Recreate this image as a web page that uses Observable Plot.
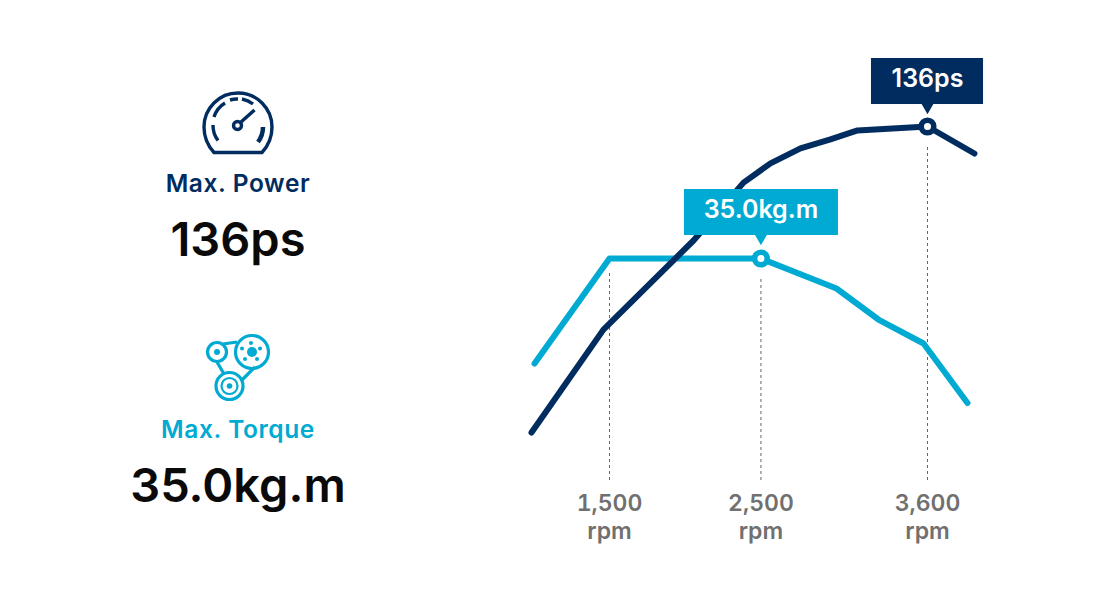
<!DOCTYPE html>
<html><head><meta charset="utf-8">
<script src="https://cdn.jsdelivr.net/npm/d3@7"></script>
<script src="https://cdn.jsdelivr.net/npm/@observablehq/plot@0.6"></script>
<style>
html,body{margin:0;padding:0;background:#fff;}
#page{position:relative;width:1120px;height:600px;overflow:hidden;display:flex;font-family:Inter,"Open Sans",sans-serif;}
#panel{position:relative;width:476px;height:600px;flex:none;}
#chart{width:644px;height:600px;flex:none;}
#chart svg{display:block;}
.t{position:absolute;left:0;width:476px;text-align:center;white-space:nowrap;}
.label{font-size:24.500px;font-weight:600;line-height:28px;letter-spacing:0.600px;}
.value{font-size:47px;font-weight:600;line-height:56px;color:#0a0a0a;}
.icon{position:absolute;left:0;top:0;}
</style></head><body>
<div id="page">
<div id="panel">
<svg class="icon" width="476" height="600" fill="none">
  <g stroke="#002c5f" stroke-width="3.400">
    <path d="M214 152.500 L262 152.500 C268 146 272 137 272 127 A34 34 0 0 0 204 127 C204 137 208 146 214 152.500 Z" stroke-linejoin="round"/>
    <path d="M218 140.500 A25 25 0 0 1 213 125" />
    <path d="M214 117 A25 25 0 0 1 225 103" />
    <path d="M230 100 A25 25 0 0 1 238 99" />
    <path d="M242 99 A25 25 0 0 1 253 104" />
    <path d="M263 127 A25 25 0 0 1 258 142" stroke-width="4.500"/>
    <circle cx="237.500" cy="125.500" r="4"/>
    <path d="M241 122 L254.500 110"/>
  </g>
  <g stroke="#00aad2" stroke-width="3.200">
    <circle cx="217" cy="352" r="9.500"/>
    <circle cx="252" cy="352" r="16.500"/>
    <circle cx="229.500" cy="386" r="13.500"/>
    <circle cx="229.500" cy="386" r="8" stroke-width="2.200"/>
    <path d="M223 344 L237 342 M217 362 L224 374 M255 367 L241 381"/>
  </g>
  <g fill="#00aad2">
    <circle cx="217" cy="352" r="3"/>
    <circle cx="229.500" cy="386" r="2.800"/>
    <circle cx="252" cy="352" r="5"/>
    <circle cx="251" cy="343" r="2"/><circle cx="260" cy="348.500" r="2"/><circle cx="257" cy="359" r="2"/>
    <circle cx="245" cy="359" r="2"/><circle cx="242" cy="348.500" r="2"/>
  </g>
</svg>
<div class="t label" style="top:169px;color:#002c5f">Max. Power</div>
<div class="t value" style="top:211px">136ps</div>
<div class="t label" style="top:415px;color:#00aad2">Max. Torque</div>
<div class="t value" style="top:457px">35.0kg.m</div>
</div>
<div id="chart"></div>
</div>
<script>
const navy = "#002c5f", cyan = "#00aad2", grey = "#707070";
// Power curve: rpm, ps
const powerRpm = [985, 1460, 2055, 2385, 2563, 2761, 2959, 3138, 3600, 3910];
const powerPs  = [34, 68.3, 98, 117.3, 123.7, 128.7, 131.7, 134.7, 136, 127];
// Torque curve: rpm, kg.m
const torqueRpm = [1005, 1500, 2500, 2999, 3276, 3574, 3864];
const torqueKgm = [21.68, 35, 35, 31.2, 27.26, 24.22, 16.68];
// Torque shares the plot's y scale through a fixed ratio
const torqueToPs = 92 / 35;
// Peaks and tick labels
const tickRpm = [1500, 2500, 3600];
const peakRpm = [2500, 3600];
const peakY = [35 * torqueToPs, 136];
const peakColor = [cyan, navy];
const peakLabel = ["35.0kg.m", "136ps"];
const boxX1 = [1995, 3230], boxX2 = [3012, 3970];
const boxY1 = [99.67, 143.33], boxY2 = [115, 158.67];
const ruleRpm = [1500, 2500, 3600];
const ruleTop = [88, 85.3, 129];
const ruleBottom = 18;

const power = powerRpm.map((x, i) => ({x, y: powerPs[i]}));
const torque = torqueRpm.map((x, i) => ({x, y: torqueKgm[i] * torqueToPs}));
const peaks = peakRpm.map((x, i) => ({x, y: peakY[i], c: peakColor[i], t: peakLabel[i],
  x1: boxX1[i], x2: boxX2[i], y1: boxY1[i], y2: boxY2[i], ty: (boxY1[i] + boxY2[i]) / 2 + 1}));
const rules = ruleRpm.map((x, i) => ({x, y1: ruleBottom, y2: ruleTop[i]}));

const plot = Plot.plot({
  width: 644, height: 600,
  margin: 0,
  style: {background: "transparent", fontFamily: "Inter, 'Open Sans', sans-serif"},
  x: {type: "linear", domain: [1500, 3600], range: [133, 451], axis: null},
  y: {type: "linear", domain: [0, 136], range: [534, 126], axis: null},
  marks: [
    Plot.ruleX(rules, {x: "x", y1: "y1", y2: "y2", stroke: "#666", strokeWidth: 1, strokeDasharray: "3,3"}),
    Plot.line(torque, {x: "x", y: "y", stroke: cyan, strokeWidth: 6}),
    Plot.line(power, {x: "x", y: "y", stroke: navy, strokeWidth: 6}),
    Plot.rect(peaks, {x1: "x1", x2: "x2", y1: "y1", y2: "y2", fill: "c"}),
    Plot.dot(peaks, {x: "x", y: "y1", symbol: "triangle", r: 5, fill: "c", rotate: 180, dy: 2}),
    Plot.dot(peaks, {x: "x", y: "y", r: 6.3, fill: "white", stroke: "c", strokeWidth: 5.5}),
    Plot.text(peaks, {x: "x", y: "ty", text: "t", fill: "white", fontSize: 25, fontWeight: 600, textAnchor: "middle", dy: 0.5}),
    Plot.axisX({anchor: "bottom", ticks: tickRpm, tickSize: 0, tickPadding: 0, label: null,
      tickFormat: d => d3.format(",")(d) + "\nrpm", fontSize: 23, fontWeight: 600, fill: grey, lineHeight: 1.2, dy: -109, lineAnchor: "top"})
  ]
});
document.getElementById("chart").append(plot);
</script>
</body></html>
